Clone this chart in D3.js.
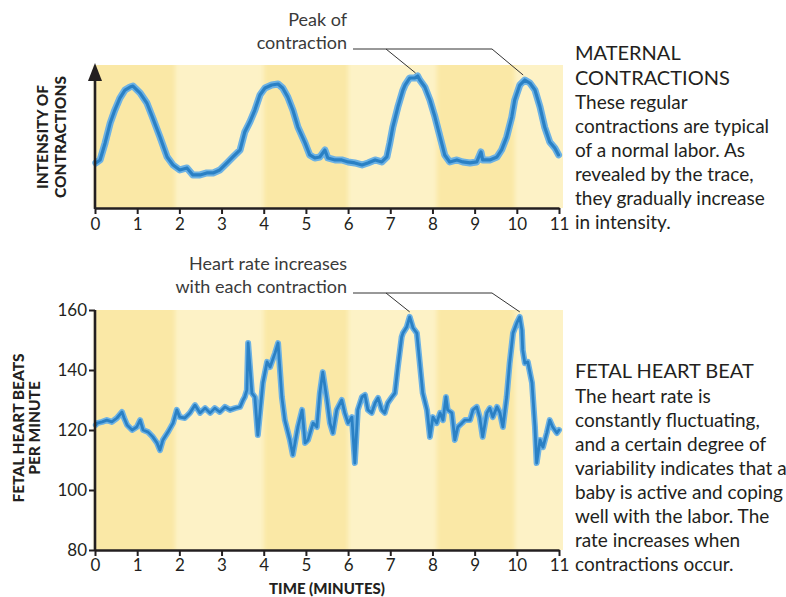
<!DOCTYPE html>
<html>
<head>
<meta charset="utf-8">
<script src="https://cdn.jsdelivr.net/npm/d3@7/dist/d3.min.js"></script>
<style>
  html, body { margin: 0; padding: 0; background: #ffffff; }
  svg { display: block; }
  text { font-family: Lato, "Open Sans", sans-serif; }
</style>
</head>
<body>
<svg id="chart" width="786" height="597"></svg>
<script>
// ---- data ----
const minuteTicks = [0, 1, 2, 3, 4, 5, 6, 7, 8, 9, 10, 11];
const bpmTicks = [80, 100, 120, 140, 160];

// shaded strips behind the traces, [start, end] in minutes
const darkBands = [[0, 1.9], [4.0, 6.0], [8.1, 9.95]];

// uterine pressure trace (relative intensity, 0–100)
const contractionTime = [0.02,0.12,0.24,0.36,0.47,0.59,0.71,0.83,0.90,1.07,1.23,1.37,1.54,1.71,1.85,2.01,2.18,2.32,2.49,2.65,2.80,2.96,3.13,3.27,3.44,3.55,3.67,3.79,3.91,4.03,4.19,4.34,4.45,4.57,4.69,4.81,4.98,5.09,5.21,5.33,5.45,5.52,5.69,5.85,6.00,6.16,6.33,6.47,6.64,6.80,6.92,6.99,7.06,7.18,7.30,7.35,7.46,7.58,7.65,7.70,7.82,7.94,8.06,8.18,8.29,8.41,8.58,8.72,8.89,9.05,9.15,9.19,9.36,9.53,9.64,9.76,9.88,9.95,10.07,10.19,10.31,10.43,10.55,10.66,10.78,10.90,10.99];
const contractionIntensity = [31.5,33.6,45.5,59.4,68.5,76.9,82.5,84.6,85.3,80.4,73.4,62.9,49.7,35.7,30.1,26.6,28.0,23.1,23.1,24.5,24.5,26.6,31.5,35.7,40.6,53.1,60.1,68.5,79.0,83.9,86.0,86.7,83.9,77.6,68.5,56.6,45.5,37.1,35.0,35.7,40.6,35.0,33.6,33.6,32.2,31.5,30.1,31.5,33.6,32.2,35.7,45.5,56.6,70.6,82.5,86.0,90.9,90.9,92.3,89.5,84.6,75.5,63.6,49.7,37.1,32.2,33.6,32.2,31.5,32.2,39.2,33.6,33.6,35.7,40.6,49.7,63.6,75.5,86.0,89.5,87.4,82.5,70.6,56.6,46.2,42.0,37.1];

// fetal heart rate trace (beats per minute)
const heartTime = [0.02,0.05,0.17,0.28,0.40,0.52,0.64,0.69,0.76,0.88,0.99,1.07,1.14,1.26,1.37,1.47,1.54,1.61,1.73,1.85,1.94,2.01,2.13,2.25,2.37,2.49,2.61,2.73,2.84,2.96,3.08,3.20,3.32,3.44,3.51,3.55,3.60,3.63,3.67,3.72,3.79,3.86,3.98,4.08,4.15,4.27,4.34,4.43,4.50,4.62,4.69,4.81,4.91,4.98,5.05,5.17,5.26,5.33,5.40,5.50,5.57,5.64,5.73,5.85,5.92,6.00,6.09,6.16,6.23,6.33,6.40,6.47,6.56,6.64,6.71,6.80,6.87,6.94,7.04,7.11,7.18,7.27,7.30,7.39,7.46,7.54,7.63,7.70,7.77,7.87,7.94,8.01,8.10,8.18,8.25,8.32,8.36,8.46,8.53,8.60,8.70,8.77,8.89,8.96,9.05,9.12,9.19,9.29,9.36,9.43,9.53,9.60,9.67,9.76,9.83,9.91,10.00,10.07,10.12,10.14,10.19,10.26,10.36,10.43,10.47,10.55,10.62,10.71,10.78,10.85,10.95,11.0];
const heartRate = [121.7,122.3,122.7,123.3,122.7,124.0,126.0,124.0,121.7,120.0,121.0,123.3,120.0,119.3,117.7,115.7,113.3,116.7,119.3,122.3,126.7,124.3,124.0,125.7,128.3,125.7,127.3,125.7,127.3,126.0,127.7,126.7,127.3,127.7,130.0,131.0,133.3,149.0,141.7,132.3,131.0,118.3,135.7,142.7,141.0,145.7,149.0,131.0,123.3,116.7,111.7,121.0,126.7,115.7,116.7,122.3,121.0,132.3,139.3,130.0,122.3,119.0,126.7,130.0,125.7,122.3,124.3,109.0,126.7,131.0,131.7,126.7,125.7,129.0,130.7,126.7,125.7,129.0,131.0,132.3,141.0,151.0,152.3,154.3,157.7,154.0,152.3,142.3,132.3,126.7,117.7,124.3,122.3,125.7,123.3,131.0,126.7,125.7,116.7,121.0,122.3,123.3,123.3,126.7,127.7,124.3,117.7,125.7,127.3,124.3,127.7,125.7,121.0,131.0,142.3,152.3,155.7,157.7,153.3,146.7,142.3,142.7,135.7,121.0,109.0,116.7,114.3,119.0,123.3,121.0,119.0,120.0];

// peaks picked out by the callout lines (minutes)
const contractionPeaks = [7.6, 10.15];
const heartPeaks = [7.46, 10.07];

// ---- layout ----
const svg = d3.select("#chart");
const INK = "#231f20";
const BAND_DARK = "#fae8a6";
const BAND_LIGHT = "#fdf2c6";

const x = d3.scaleLinear().domain([0, 11]).range([95, 559]);
const yTop = d3.scaleLinear().domain([0, 100]).range([208, 65]);
const yBot = d3.scaleLinear().domain([80, 160]).range([550, 310]);

const defs = svg.append("defs");
defs.append("filter").attr("id", "soft").attr("x", "-5%").attr("y", "-5%").attr("width", "110%").attr("height", "110%")
  .append("feGaussianBlur").attr("stdDeviation", 0.7);
defs.append("filter").attr("id", "bandBlur").attr("x", "-2%").attr("width", "104%")
  .append("feGaussianBlur").attr("stdDeviation", "2 0");

function panel(yScale, top) {
  const g = svg.append("g");
  const x0 = x(0), x1 = x(11) + 4, y0 = top, y1 = yScale.range()[0];
  g.append("rect").attr("x", x0).attr("y", y0).attr("width", x1 - x0).attr("height", y1 - y0)
    .attr("fill", BAND_LIGHT);
  const bands = g.append("g").attr("filter", "url(#bandBlur)");
  bands.selectAll("rect").data(darkBands).join("rect")
    .attr("x", d => x(d[0])).attr("y", y0)
    .attr("width", d => x(d[1]) - x(d[0])).attr("height", y1 - y0)
    .attr("fill", BAND_DARK);
  return g;
}

function trace(times, values, yScale, widthOuter, widthInner) {
  const pts = times.map((t, i) => [t, values[i]]);
  const line = d3.line().x(d => x(d[0])).y(d => yScale(d[1])).curve(d3.curveLinear);
  const g = svg.append("g").attr("filter", "url(#soft)");
  g.append("path").datum(pts).attr("d", line).attr("fill", "none")
    .attr("stroke", "#6db2e4").attr("stroke-width", widthOuter)
    .attr("stroke-linejoin", "round").attr("stroke-linecap", "round");
  g.append("path").datum(pts).attr("d", line).attr("fill", "none")
    .attr("stroke", "#2a80c4").attr("stroke-width", widthInner)
    .attr("stroke-linejoin", "round").attr("stroke-linecap", "round");
}

function styleAxis(sel) {
  sel.selectAll("path.domain").attr("stroke", INK).attr("stroke-width", 2.6);
  sel.selectAll(".tick line").attr("stroke", INK).attr("stroke-width", 2);
  sel.selectAll(".tick text").attr("fill", INK)
    .style("font-family", "Lato, 'Open Sans', sans-serif").style("font-size", "17px");
}

function sideTitle(lines, cx, cy, size) {
  lines.forEach((s, i) => svg.append("text")
    .attr("transform", `translate(${cx[i]},${cy}) rotate(-90)`)
    .attr("text-anchor", "middle").attr("fill", INK)
    .style("font-weight", 900).style("font-size", size + "px").text(s));
}

// ---- maternal contractions ----
panel(yTop, 65);
trace(contractionTime, contractionIntensity, yTop, 7, 3.2);

const xAxisTop = svg.append("g").attr("transform", `translate(0,${yTop(0)})`)
  .call(d3.axisBottom(x).tickValues(minuteTicks).tickSize(6).tickSizeOuter(0).tickPadding(4).tickFormat(d3.format("d")));
styleAxis(xAxisTop);

// vertical intensity axis with arrowhead
svg.append("line").attr("x1", x(0)).attr("x2", x(0)).attr("y1", yTop(0) + 1).attr("y2", 78)
  .attr("stroke", INK).attr("stroke-width", 2.6);
svg.append("path").attr("d", `M${x(0)},63 L${x(0) - 7},81 L${x(0) + 7},81 Z`).attr("fill", INK);

sideTitle(["INTENSITY OF", "CONTRACTIONS"], [48, 66], 137, 15.5);

// ---- fetal heart rate ----
panel(yBot, 310);
trace(heartTime, heartRate, yBot, 6, 2.8);

const xAxisBot = svg.append("g").attr("transform", `translate(0,${yBot(80)})`)
  .call(d3.axisBottom(x).tickValues(minuteTicks).tickSize(6).tickSizeOuter(0).tickPadding(3).tickFormat(d3.format("d")));
styleAxis(xAxisBot);

const yAxisBot = svg.append("g").attr("transform", `translate(${x(0)},0)`)
  .call(d3.axisLeft(yBot).tickValues(bpmTicks).tickSize(6).tickSizeOuter(0).tickPadding(2));
styleAxis(yAxisBot);
yAxisBot.select("path.domain").attr("d", `M0,${yBot(80) + 1}V${yBot(160)}`);

sideTitle(["FETAL HEART BEATS", "PER MINUTE"], [24, 40], 428, 15.5);

svg.append("text").attr("x", x(5.5)).attr("y", 594).attr("text-anchor", "middle").attr("fill", INK)
  .style("font-weight", 900).style("font-size", "15px").text("TIME (MINUTES)");

// ---- callouts ----
function callout(lines, baseY, lineY, peaks, values, times, yScale) {
  const t = svg.append("text").attr("text-anchor", "end").attr("fill", "#3a3a3a").style("font-size", "18px");
  lines.forEach((s, i) => t.append("tspan").attr("x", 347).attr("y", baseY + i * 23).text(s));
  const tipY = p => {
    const i = d3.minIndex(times, tt => Math.abs(tt - p));
    return yScale(values[i]) - 5;
  };
  const tips = peaks.map(p => [x(p), tipY(p)]);
  const elbows = [386, 492];
  const g = svg.append("g").attr("stroke", "#333").attr("stroke-width", 1).attr("fill", "none");
  g.append("path").attr("d", `M353,${lineY}H${elbows[1]}`);
  tips.forEach((tp, i) => g.append("path").attr("d", `M${elbows[i]},${lineY}L${tp[0]},${tp[1]}`));
}
callout(["Peak of", "contraction"], 26, 49, contractionPeaks, contractionIntensity, contractionTime, yTop);
callout(["Heart rate increases", "with each contraction"], 270, 293, heartPeaks, heartRate, heartTime, yBot);

// ---- side notes ----
function note(x0, headLines, headBase, bodyLines, bodyBase) {
  const h = svg.append("text").attr("fill", INK).style("font-size", "20px");
  headLines.forEach((s, i) => h.append("tspan").attr("x", x0).attr("y", headBase + i * 25).text(s));
  const b = svg.append("text").attr("fill", INK).style("font-size", "19px");
  bodyLines.forEach((s, i) => b.append("tspan").attr("x", x0).attr("y", bodyBase + i * 24).text(s));
}
note(575, ["MATERNAL", "CONTRACTIONS"], 60,
  ["These regular", "contractions are typical", "of a normal labor. As", "revealed by the trace,", "they gradually increase", "in intensity."], 109);
note(575, ["FETAL HEART BEAT"], 378,
  ["The heart rate is", "constantly fluctuating,", "and a certain degree of", "variability indicates that a", "baby is active and coping", "well with the labor. The", "rate increases when", "contractions occur."], 403);
</script>
</body>
</html>
